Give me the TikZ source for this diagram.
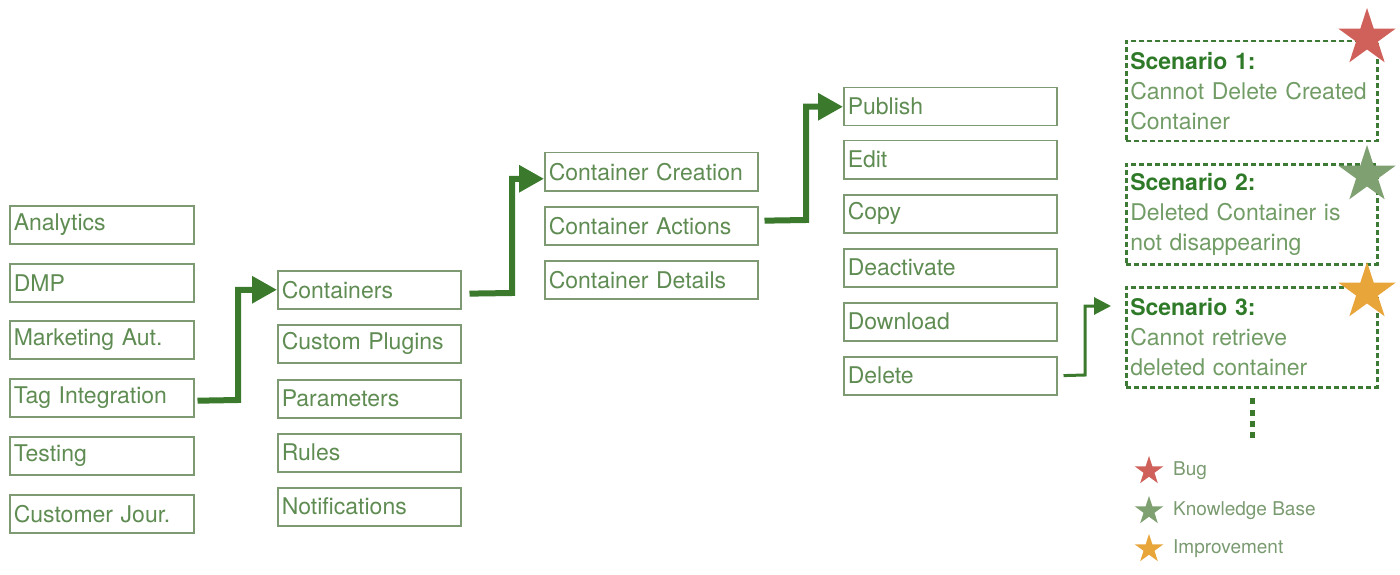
\documentclass[tikz,border=0pt]{standalone}
\usepackage{fontspec}
\setmainfont{TeX Gyre Heros}
\usetikzlibrary{arrows.meta,shapes.geometric}
\definecolor{boxline}{HTML}{7E9A72}
\definecolor{boxtext}{HTML}{5F8C52}
\definecolor{arrowgreen}{HTML}{3B7A2C}
\definecolor{scenline}{HTML}{3D7A35}
\definecolor{scentitle}{HTML}{2F7A28}
\definecolor{scentext}{HTML}{729C66}
\definecolor{bugred}{HTML}{D0605A}
\definecolor{kbgreen}{HTML}{7FA070}
\definecolor{imporange}{HTML}{E8A53A}
\definecolor{legendtext}{HTML}{7A9A70}
\tikzset{
  menubox/.style={draw=boxline, line width=1.5pt, anchor=north west, inner xsep=4pt, inner ysep=0pt,
    minimum height=38pt, text width=#1, align=left, text=boxtext, font=\fontsize{23}{28}\selectfont},
  scenbox/.style={draw=scenline, line width=2.5pt, dash pattern=on 5pt off 3pt, anchor=north west,
    inner xsep=4pt, inner ysep=4pt, minimum height=100pt, text width=243pt, align=left,
    text=scentext, font=\fontsize{23}{30}\selectfont},
  bigstar/.style={star, star points=5, star point ratio=2.618, minimum size=60pt, inner sep=0pt, draw=none},
  smallstar/.style={star, star points=5, star point ratio=2.618, minimum size=30pt, inner sep=0pt, draw=none},
  flowarrow/.style={draw=arrowgreen, line width=6pt, -{Triangle[width=26pt,length=25pt]}},
  thinarrow/.style={draw=arrowgreen, line width=3pt, -{Triangle[width=17pt,length=17pt]}},
  legendlabel/.style={anchor=west, text=legendtext, font=\fontsize{19}{22}\selectfont, inner sep=0pt},
  dotmark/.style={fill=arrowgreen, draw=none, minimum width=5pt, minimum height=6pt, inner sep=0pt}
}
\begin{document}
\begin{tikzpicture}[x=1pt, y=-1pt]
\useasboundingbox (0,0) rectangle (1400,575);
% column 1
\node[menubox=176pt] (analytics) at (9,205) {Analytics};
\node[menubox=176pt] (dmp) at (9,263) {DMP};
\node[menubox=176pt] (marketing) at (9,320) {Marketing Aut.};
\node[menubox=176pt] (tag) at (9,378) {Tag Integration};
\node[menubox=176pt] (testing) at (9,436) {Testing};
\node[menubox=176pt] (journey) at (9,494) {Customer Jour.};
% column 2
\node[menubox=175pt] (containers) at (277,270) {Containers};
\node[menubox=175pt] (plugins) at (277,324) {Custom Plugins};
\node[menubox=175pt] (parameters) at (277,379) {Parameters};
\node[menubox=175pt] (rules) at (277,433) {Rules};
\node[menubox=175pt] (notifications) at (277,487) {Notifications};
% column 3
\node[menubox=205pt] (creation) at (544,152) {Container Creation};
\node[menubox=205pt] (actions) at (544,206) {Container Actions};
\node[menubox=205pt] (details) at (544,260) {Container Details};
% column 4
\node[menubox=205pt] (publish) at (843,87) {Publish};
\node[menubox=205pt] (edit) at (843,140) {Edit};
\node[menubox=205pt] (copy) at (843,194) {Copy};
\node[menubox=205pt] (deactivate) at (843,248) {Deactivate};
\node[menubox=205pt] (download) at (843,302) {Download};
\node[menubox=205pt] (delete) at (843,356) {Delete};
% scenarios
\node[scenbox] (s1) at (1125,40) {{\color{scentitle}\bfseries Scenario 1:}\\Cannot Delete Created\\Container};
\node[scenbox] (s2) at (1125,163) {{\color{scentitle}\bfseries Scenario 2:}\\Deleted Container is\\not disappearing};
\node[scenbox] (s3) at (1125,286) {{\color{scentitle}\bfseries Scenario 3:}\\Cannot retrieve\\deleted container};
\node[bigstar, fill=bugred] (star1) at (1367,38) {};
\node[bigstar, fill=kbgreen] (star2) at (1367,175) {};
\node[bigstar, fill=imporange] (star3) at (1367,292) {};
% arrows
\draw[flowarrow, shorten <=3pt] ([yshift=-3pt]tag.east) -- (238,400) |- (containers.west);
\draw[flowarrow, shorten <=8pt] ([yshift=-4pt]containers.east) -- (512,293) |- ([yshift=-7pt]creation.west);
\draw[flowarrow, shorten <=6pt] ([yshift=5pt]actions.east) -- (806,220) |- (publish.west);
\coordinate (s3in) at (1111,306);
\draw[thinarrow, shorten <=6pt] (delete.east) -- (1085,375) |- (s3in);
% continuation dots
\node[dotmark] (d1) at (1252,401) {};
\node[dotmark] (d2) at (1252,413) {};
\node[dotmark] (d3) at (1252,424) {};
\node[dotmark] (d4) at (1252,435) {};
% legend
\node[smallstar, fill=bugred] (lbug) at (1149,471) {};
\node[legendlabel] (lbugt) at (1173,471) {Bug};
\node[smallstar, fill=kbgreen] (lkb) at (1149,511) {};
\node[legendlabel] (lkbt) at (1173,511) {Knowledge Base};
\node[smallstar, fill=imporange] (limp) at (1149,549) {};
\node[legendlabel] (limpt) at (1173,549) {Improvement};
\end{tikzpicture}
\end{document}
